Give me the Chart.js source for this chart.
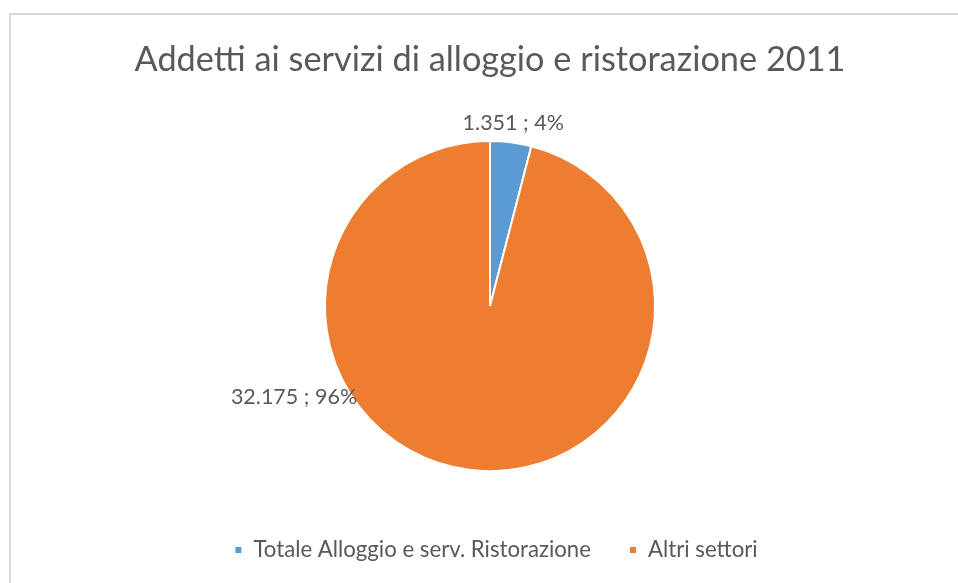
<!DOCTYPE html>
<html>
<head>
<meta charset="utf-8">
<script src="https://cdn.jsdelivr.net/npm/chart.js@4.4.0/dist/chart.umd.min.js"></script>
<style>
  html, body { margin: 0; padding: 0; background: #fff; overflow: hidden; }
  #frame { position: absolute; left: 9px; top: 13px; width: 962px; height: 600px;
           border: 2px solid #d9d9d9; box-sizing: border-box; }
  #wrap { position: absolute; left: 11px; top: 15px; width: 958px; height: 568px; }
</style>
</head>
<body>
<div id="frame"></div>
<div id="wrap"><canvas id="myChart"></canvas></div>
<script>
// data
const categories = ["Totale Alloggio e serv. Ristorazione", "Altri settori"];
const addetti = [1351, 32175];
const percentLabels = ["4%", "96%"];
const colors = ["#5B9BD5", "#ED7D31"];
const chartTitle = "Addetti ai servizi di alloggio e ristorazione 2011";

const FONT = "Lato, 'Open Sans', sans-serif";
const TEXT = "#595959";

// italian thousands separator
function fmt(n) {
    return String(n).replace(/\B(?=(\d{3})+(?!\d))/g, ".");
}

// where each label sits: angle (deg, canvas) or null = mid-angle, radius delta, alignment
const labelPlacement = [
    { angle: null, dr: 19, align: "center" },
    { angle: 145.6, dr: -4, align: "right" }
];

const pieLabels = {
    id: "pieLabels",
    afterLayout(chart) {
        // excel legend sits a bit right of centre
        chart.legend.left += 6;
        chart.legend.right += 6;
    },
    afterDatasetsDraw(chart) {
        const ctx = chart.ctx;
        const meta = chart.getDatasetMeta(0);
        ctx.save();
        ctx.font = "21.5px " + FONT;
        ctx.fillStyle = TEXT;
        ctx.textBaseline = "middle";
        meta.data.forEach((arc, i) => {
            const p = labelPlacement[i];
            const a = p.angle === null ? (arc.startAngle + arc.endAngle) / 2 : p.angle * Math.PI / 180;
            const r = arc.outerRadius + p.dr;
            const x = arc.x + Math.cos(a) * r;
            const y = arc.y + Math.sin(a) * r;
            ctx.textAlign = p.align;
            ctx.fillText(fmt(addetti[i]) + " ; " + percentLabels[i], x, y);
        });
        ctx.restore();
    }
};

const myChartRef = document.getElementById("myChart").getContext("2d");
new Chart(myChartRef, {
    type: "pie",
    data: {
        labels: categories,
        datasets: [{
            data: addetti,
            backgroundColor: colors,
            borderColor: "#ffffff",
            borderWidth: 2,
            radius: "85.2%"
        }]
    },
    options: {
        responsive: true,
        maintainAspectRatio: false,
        animation: false,
        layout: { padding: { top: 0, bottom: 12 } },
        plugins: {
            title: {
                display: true,
                text: chartTitle,
                color: TEXT,
                font: { family: FONT, size: 34.3, weight: "normal" },
                padding: { top: 24.4, bottom: 30.8 }
            },
            legend: {
                position: "bottom",
                labels: {
                    color: TEXT,
                    font: { family: FONT, size: 22.2 },
                    boxWidth: 8,
                    boxHeight: 8,
                    padding: 38
                }
            },
            tooltip: { enabled: false }
        }
    },
    plugins: [pieLabels]
});
</script>
</body>
</html>
